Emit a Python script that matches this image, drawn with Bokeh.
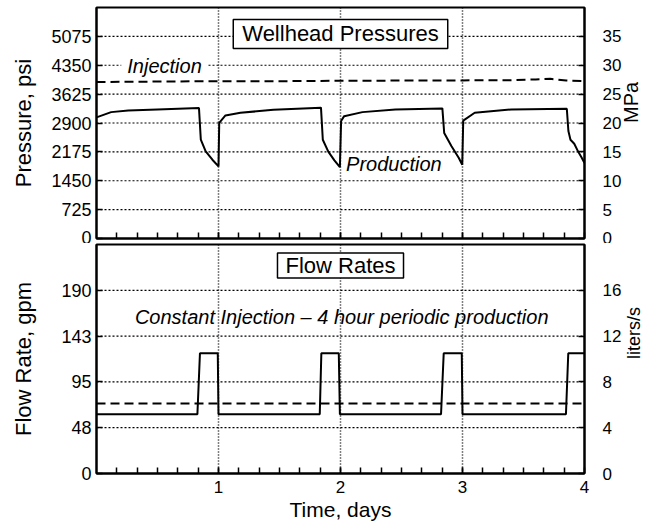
import math
from bokeh.plotting import figure
from bokeh.models import Range1d, LinearAxis, FixedTicker, Label, Span
from bokeh.layouts import column
from bokeh.embed import file_html
from bokeh.resources import INLINE

FONT = "Liberation Sans"

# ---------------- data ----------------
# Production wellhead pressure, psi, vs time in days
prod_t = [0.0, 0.12, 0.26, 0.50, 0.84, 0.855, 0.895, 0.95, 1.0,
          1.006, 1.057, 1.18, 1.45, 1.84,
          1.855, 1.90, 1.95, 1.995,
          2.005, 2.03, 2.18, 2.45, 2.835,
          2.85, 2.91, 2.97, 2.998,
          3.006, 3.10, 3.40, 3.855,
          3.868, 3.885, 3.916, 3.95, 3.975, 4.0]
prod_psi = [3040, 3173, 3216, 3241, 3274, 2483, 2187, 1978, 1809,
            2905, 3089, 3158, 3230, 3285,
            2480, 2180, 1960, 1790,
            2950, 3072, 3173, 3241, 3266,
            2650, 2314, 2021, 1851,
            2960, 3158, 3241, 3259,
            2700, 2480, 2380, 2170, 2040, 1894]

# Injection wellhead pressure, psi
inj_t = [0.0, 0.5, 1.0, 1.5, 2.0, 2.5, 3.0, 3.4, 3.6, 3.72, 3.85, 4.0]
inj_psi = [3930, 3940, 3950, 3950, 3960, 3965, 3970, 3975, 3995, 4010, 3965, 3950]

# Production flow rate, liters/s (4 hour periodic production)
flow_prod_t = [0.0, 0.827, 0.848, 0.994, 1.0, 1.83, 1.843, 1.986, 1.995,
               2.824, 2.846, 2.994, 3.0, 3.848, 3.867, 4.0]
flow_prod_lps = [5.17, 5.17, 10.5, 10.5, 5.17, 5.17, 10.5, 10.5, 5.17,
                 5.17, 10.5, 10.5, 5.17, 5.17, 10.5, 10.5]

# Constant injection flow rate, liters/s
flow_inj_t = [0.0, 4.0]
flow_inj_lps = [6.12, 6.12]

# ---------------- axes / ticks ----------------
day_ticks = [1, 2, 3, 4]
day_grid = [1, 2, 3]
day_minor = [k / 6 for k in range(1, 24)]        # every 4 hours
day_labels = {1: "1", 2: "2", 3: "3", 4: "4"}

psi_ticks = [0, 725, 1450, 2175, 2900, 3625, 4350, 5075]
psi_grid = [725, 1450, 2175, 2900, 3625, 4350, 5075]
psi_max = 5800
mpa_ticks = [0, 5, 10, 15, 20, 25, 30, 35]
mpa_max = 40

lps_ticks = [0, 4, 8, 12, 16]
lps_grid = [4, 8, 12, 16]
gpm_labels = ["0", "48", "95", "143", "190"]
lps_max = 20

W = 657
LEFT = 96
RIGHT = 68


def style(p, ygrid_values):
    p.outline_line_color = "black"
    p.outline_line_width = 2
    p.background_fill_color = None
    p.border_fill_color = None
    p.xgrid.visible = False
    p.ygrid.visible = False
    # dotted reference grid at the tick values
    for v in day_grid:
        p.add_layout(Span(location=v, dimension="height", line_color="black",
                          line_width=1.5, line_dash="1 2", level="underlay"))
    for v in ygrid_values:
        p.add_layout(Span(location=v, dimension="width", line_color="black",
                          line_width=1.2, line_dash="2 2", level="underlay"))
    for ax in p.axis:
        ax.axis_line_color = "black"
        ax.axis_line_width = 2
        ax.major_tick_line_color = "black"
        ax.major_tick_line_width = 1.5
        ax.major_tick_in = 6
        ax.major_tick_out = 0
        ax.minor_tick_line_color = "black"
        ax.minor_tick_line_width = 1.5
        ax.minor_tick_in = 6
        ax.minor_tick_out = 0
        ax.major_label_text_font = FONT
        ax.major_label_text_color = "black"
        ax.axis_label_text_font = FONT
        ax.axis_label_text_font_style = "normal"
        ax.axis_label_text_color = "black"


def orient_up(ax):
    # right-hand axis titles read bottom-to-top, like the left ones
    if "axis_label_orientation" in ax.properties():
        ax.axis_label_orientation = math.pi / 2


# ---------------- top panel: wellhead pressures ----------------
p1 = figure(width=W, height=243, x_range=Range1d(0, 4), y_range=Range1d(0, psi_max),
            output_backend="svg", toolbar_location=None,
            min_border_left=LEFT, min_border_right=RIGHT,
            min_border_top=7, min_border_bottom=5)
p1.extra_y_ranges = {"mpa": Range1d(0, mpa_max)}
p1.add_layout(LinearAxis(y_range_name="mpa"), "right")
style(p1, psi_grid)

p1.xaxis.ticker = FixedTicker(ticks=day_ticks, minor_ticks=day_minor)
p1.xaxis.major_label_overrides = {t: "" for t in day_ticks}
p1.xaxis.major_label_text_font_size = "1px"
p1.xaxis.major_label_standoff = 0

p1.yaxis[0].ticker = FixedTicker(ticks=psi_ticks)
p1.yaxis[0].minor_tick_line_color = None
p1.yaxis[0].major_label_text_font_size = "18px"
p1.yaxis[0].major_label_standoff = 5
p1.yaxis[0].axis_label = "Pressure, psi"
p1.yaxis[0].axis_label_text_font_size = "22px"
p1.yaxis[0].axis_label_standoff = 12

rax1 = p1.yaxis[1]
rax1.ticker = FixedTicker(ticks=mpa_ticks)
rax1.minor_tick_line_color = None
rax1.major_label_text_font_size = "17px"
rax1.major_label_standoff = 18
rax1.axis_label = "MPa"
rax1.axis_label_text_font_size = "20px"
rax1.axis_label_standoff = 7
orient_up(rax1)

p1.line(inj_t, inj_psi, line_color="black", line_width=2, line_dash="9 5")
p1.line(prod_t, prod_psi, line_color="black", line_width=2)

p1.add_layout(Label(x=2.0, y=5135, text="Wellhead Pressures", text_align="center",
                    text_baseline="middle", text_font=FONT, text_font_size="22px",
                    text_color="black", background_fill_color="white",
                    border_line_color="black", border_line_width=1.5, padding=(9, 2)))
p1.add_layout(Label(x=0.203, y=4340, text="Injection", text_align="left",
                    text_baseline="middle", text_font=FONT, text_font_size="20px",
                    text_font_style="italic", text_color="black",
                    background_fill_color="white", padding=(6, 0)))
p1.add_layout(Label(x=2.046, y=1860, text="Production", text_align="left",
                    text_baseline="middle", text_font=FONT, text_font_size="20px",
                    text_font_style="italic", text_color="black"))

# ---------------- bottom panel: flow rates ----------------
p2 = figure(width=W, height=286, x_range=p1.x_range, y_range=Range1d(0, lps_max),
            output_backend="svg", toolbar_location=None,
            min_border_left=LEFT, min_border_right=RIGHT,
            min_border_top=1, min_border_bottom=56)
p2.add_layout(LinearAxis(), "right")
style(p2, lps_grid)

p2.xaxis.ticker = FixedTicker(ticks=day_ticks, minor_ticks=day_minor)
p2.xaxis.major_label_overrides = day_labels
p2.xaxis.major_label_text_font_size = "17px"
p2.xaxis.major_label_standoff = 7
p2.xaxis.axis_label = "Time, days"
p2.xaxis.axis_label_text_font_size = "21px"
p2.xaxis.axis_label_standoff = 2

p2.yaxis[0].ticker = FixedTicker(ticks=lps_ticks)
p2.yaxis[0].major_label_overrides = dict(zip(lps_ticks, gpm_labels))
p2.yaxis[0].minor_tick_line_color = None
p2.yaxis[0].major_label_text_font_size = "18px"
p2.yaxis[0].major_label_standoff = 5
p2.yaxis[0].axis_label = "Flow Rate, gpm"
p2.yaxis[0].axis_label_text_font_size = "22px"
p2.yaxis[0].axis_label_standoff = 22

rax2 = p2.yaxis[1]
rax2.ticker = FixedTicker(ticks=lps_ticks)
rax2.minor_tick_line_color = None
rax2.major_label_text_font_size = "17px"
rax2.major_label_standoff = 18
rax2.axis_label = "liters/s"
rax2.axis_label_text_font_size = "18px"
rax2.axis_label_standoff = 10
orient_up(rax2)

p2.line(flow_inj_t, flow_inj_lps, line_color="black", line_width=2, line_dash="9 5")
p2.line(flow_prod_t, flow_prod_lps, line_color="black", line_width=2)

p2.add_layout(Label(x=2.0, y=18.16, text="Flow Rates", text_align="center",
                    text_baseline="middle", text_font=FONT, text_font_size="22px",
                    text_color="black", background_fill_color="white",
                    border_line_color="black", border_line_width=1.5, padding=(8, 0)))
p2.add_layout(Label(x=2.01, y=13.65,
                    text="Constant Injection \u2013 4 hour periodic production",
                    text_align="center", text_baseline="middle", text_font=FONT,
                    text_font_size="20px", text_font_style="italic", text_color="black"))

layout = column(p1, p2)
open("out.html", "w").write(file_html(layout, INLINE))
